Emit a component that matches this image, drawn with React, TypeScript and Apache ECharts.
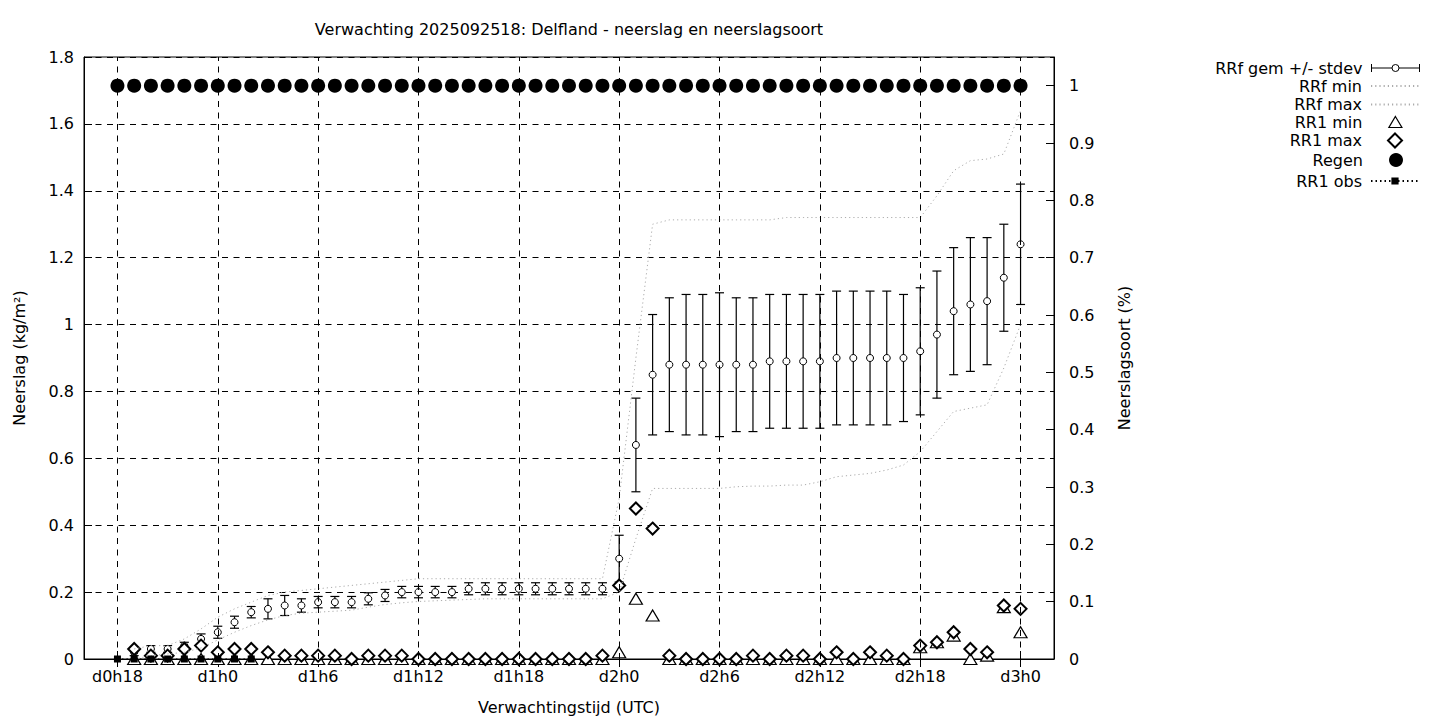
import React, { useEffect, useRef } from 'react';
import * as echarts from 'echarts';

// ---- data (hours since d0h0) ----
const hours = [
  18, 19, 20, 21, 22, 23, 24, 25, 26, 27, 28, 29, 30, 31, 32, 33, 34, 35, 36, 37,
  38, 39, 40, 41, 42, 43, 44, 45, 46, 47, 48, 49, 50, 51, 52, 53, 54, 55, 56, 57,
  58, 59, 60, 61, 62, 63, 64, 65, 66, 67, 68, 69, 70, 71, 72,
];
const xTicks = [18, 24, 30, 36, 42, 48, 54, 60, 66, 72];

const rrfMean = [
  null,
  0.02, 0.03, 0.03, 0.04, 0.06, 0.08, 0.11, 0.14, 0.15, 0.16,
  0.16, 0.17, 0.17, 0.17, 0.18, 0.19, 0.2, 0.2, 0.2, 0.2,
  0.21, 0.21, 0.21, 0.21, 0.21, 0.21, 0.21, 0.21, 0.21, 0.3,
  0.64, 0.85, 0.88, 0.88, 0.88, 0.88, 0.88, 0.88, 0.89, 0.89,
  0.89, 0.89, 0.9, 0.9, 0.9, 0.9, 0.9, 0.92, 0.97, 1.04,
  1.06, 1.07, 1.14, 1.24,
];
const rrfStdev = [
  null,
  0.01, 0.01, 0.01, 0.01, 0.015, 0.018, 0.018, 0.017, 0.03, 0.03,
  0.02, 0.017, 0.017, 0.017, 0.018, 0.018, 0.017, 0.017, 0.017, 0.017,
  0.018, 0.018, 0.018, 0.018, 0.018, 0.018, 0.018, 0.018, 0.018, 0.07,
  0.14, 0.18, 0.2, 0.21, 0.21, 0.215, 0.2, 0.2, 0.2, 0.2,
  0.2, 0.2, 0.2, 0.2, 0.2, 0.2, 0.19, 0.19, 0.19, 0.19,
  0.2, 0.19, 0.16, 0.18,
];
const rrfMin = [
  null,
  0, 0.01, 0.015, 0.02, 0.033, 0.057, 0.08, 0.1, 0.117, 0.13,
  0.137, 0.14, 0.143, 0.146, 0.155, 0.163, 0.168, 0.172, 0.174, 0.176,
  0.178, 0.18, 0.18, 0.18, 0.18, 0.18, 0.18, 0.18, 0.18, 0.2,
  0.36, 0.51, 0.51, 0.51, 0.51, 0.51, 0.515, 0.517, 0.517, 0.52,
  0.52, 0.53, 0.545, 0.55, 0.555, 0.565, 0.58, 0.62, 0.68, 0.74,
  0.75, 0.76, 0.87, 1.0,
];
const rrfMax = [
  null,
  0.03, 0.04, 0.04, 0.06, 0.09, 0.125, 0.15, 0.17, 0.19, 0.2,
  0.205, 0.21, 0.215, 0.22, 0.225, 0.23, 0.235, 0.24, 0.24, 0.24,
  0.24, 0.24, 0.24, 0.24, 0.24, 0.24, 0.24, 0.24, 0.24, 0.48,
  0.9, 1.3, 1.313, 1.313, 1.313, 1.313, 1.313, 1.313, 1.313, 1.32,
  1.32, 1.32, 1.32, 1.32, 1.32, 1.32, 1.32, 1.32, 1.385, 1.46,
  1.49, 1.495, 1.51, 1.64,
];
const rr1Min = [
  null,
  0, 0, 0, 0, 0, 0, 0, 0, 0, 0,
  0, 0, 0, 0, 0, 0, 0, 0, 0, 0,
  0, 0, 0, 0, 0, 0, 0, 0, 0, 0.02,
  0.18, 0.13, 0, 0, 0, 0, 0, 0, 0, 0,
  0, 0, 0, 0, 0, 0, 0, 0.035, 0.05, 0.07,
  0, 0.01, 0.155, 0.08,
];
const rr1Max = [
  null,
  0.03, 0.01, 0.01, 0.03, 0.04, 0.02, 0.03, 0.03, 0.02, 0.01,
  0.01, 0.01, 0.01, 0, 0.01, 0.01, 0.01, 0, 0, 0,
  0, 0, 0, 0, 0, 0, 0, 0, 0.01, 0.22,
  0.45, 0.39, 0.01, 0, 0, 0, 0, 0.01, 0, 0.01,
  0.01, 0, 0.02, 0, 0.02, 0.01, 0, 0.04, 0.05, 0.08,
  0.03, 0.02, 0.16, 0.15,
];
const regen = [
  1, 1, 1, 1, 1, 1, 1, 1, 1, 1, 1, 1, 1, 1, 1, 1, 1, 1, 1, 1,
  1, 1, 1, 1, 1, 1, 1, 1, 1, 1, 1, 1, 1, 1, 1, 1, 1, 1, 1, 1,
  1, 1, 1, 1, 1, 1, 1, 1, 1, 1, 1, 1, 1, 1, 1,
];
const obsHours = [18, 19, 20, 21, 22, 23, 24, 25, 26];
const rr1Obs = [0, 0, 0, 0, 0, 0, 0, 0, 0];

const FONT = 'DejaVu Sans';
const NAMES = {
  gem: 'RRf gem +/- stdev',
  fmin: 'RRf min',
  fmax: 'RRf max',
  min1: 'RR1 min',
  max1: 'RR1 max',
  regen: 'Regen',
  obs: 'RR1 obs',
};

const pairs = (ys: (number | null)[]) =>
  hours.map((h, i) => [h, ys[i]]).filter((p) => p[1] !== null);

const fmtHour = (v: number) => `d${Math.floor(v / 24)}h${v % 24}`;

const errIcon =
  'path://M0,3V11M0,7H20.5M27.5,7H48M48,3V11M20.5,7A3.5,3.5 0 1 1 27.5,7A3.5,3.5 0 1 1 20.5,7Z';

function buildOption() {
  const errData = hours
    .map((h, i) => [h, rrfMean[i], rrfStdev[i]])
    .filter((p) => p[1] !== null);

  const legendRows: any[] = [
    {
      name: NAMES.gem, cy: 66.5, w: 48, h: 14, right: 20, pad: 4,
      item: { icon: errIcon, itemStyle: { color: '#fff', borderColor: '#000', borderWidth: 1 } },
    },
    { name: NAMES.fmin, cy: 84.5, w: 48, h: 14, right: 20, pad: 4, item: { itemStyle: { opacity: 0 } } },
    { name: NAMES.fmax, cy: 103, w: 48, h: 14, right: 20, pad: 4, item: { itemStyle: { opacity: 0 } } },
    {
      name: NAMES.min1, cy: 121.5, w: 13, h: 11, right: 37.5, pad: 21.5, top: 113.5,
      item: { itemStyle: { color: '#fff', borderColor: '#000', borderWidth: 1.2 } },
    },
    {
      name: NAMES.max1, cy: 140, w: 14, h: 14, right: 37, pad: 21, top: 132,
      item: { itemStyle: { color: '#fff', borderColor: '#000', borderWidth: 2 } },
    },
    { name: NAMES.regen, cy: 158.5, w: 14, h: 14, right: 37, pad: 21, item: {} },
    { name: NAMES.obs, cy: 177, w: 48, h: 9, right: 20, pad: 4, item: {} },
  ];

  const legends = legendRows.map((r) => ({
    orient: 'vertical',
    right: r.right,
    top: r.top != null ? r.top : r.cy - r.h / 2,
    align: 'right',
    padding: 0,
    itemWidth: r.w,
    itemHeight: r.h,
    symbolKeepAspect: true,
    selectedMode: false,
    textStyle: {
      fontSize: 16,
      lineHeight: 17,
      color: '#000',
      fontFamily: FONT,
      padding: [0, r.pad, 0, 0],
    },
    data: [{ name: r.name, ...r.item }],
  }));

  const axisText = { fontSize: 16, color: '#000', fontFamily: FONT };
  const dash = [6, 5.5];

  return {
    animation: false,
    backgroundColor: '#fff',
    textStyle: { fontFamily: FONT },
    title: {
      text: 'Verwachting 2025092518: Delfland - neerslag en neerslagsoort',
      left: 569,
      top: 21,
      textAlign: 'center',
      padding: 0,
      textStyle: { fontSize: 16, fontWeight: 'normal', color: '#000', fontFamily: FONT },
    },
    legend: legends,
    grid: {
      left: 84,
      top: 57,
      width: 970,
      height: 602,
      show: true,
      borderColor: '#000',
      borderWidth: 1,
      backgroundColor: 'transparent',
    },
    xAxis: [
      {
        type: 'value',
        min: 16,
        max: 74,
        position: 'bottom',
        name: 'Verwachtingstijd (UTC)',
        nameLocation: 'middle',
        nameGap: 40,
        nameTextStyle: axisText,
        axisLine: { show: true, lineStyle: { color: '#000', width: 1 } },
        axisTick: {
          show: true,
          inside: true,
          length: 8,
          customValues: xTicks,
          lineStyle: { color: '#000', width: 1 },
        },
        axisLabel: {
          customValues: xTicks,
          formatter: fmtHour,
          margin: 9,
          ...axisText,
        },
        splitLine: { show: false },
      },
      {
        type: 'value',
        min: 16,
        max: 74,
        position: 'top',
        axisLine: { show: false },
        axisTick: {
          show: true,
          inside: true,
          length: 8,
          customValues: xTicks,
          lineStyle: { color: '#000', width: 1 },
        },
        axisLabel: { show: false, customValues: xTicks },
        splitLine: { show: false },
      },
    ],
    yAxis: [
      {
        type: 'value',
        min: 0,
        max: 1.8,
        interval: 0.2,
        position: 'left',
        name: 'Neerslag (kg/m²)',
        nameLocation: 'middle',
        nameGap: 57,
        nameTextStyle: axisText,
        axisLine: { show: true, lineStyle: { color: '#000', width: 1 } },
        axisTick: { show: true, inside: true, length: 8, lineStyle: { color: '#000' } },
        axisLabel: { margin: 10, ...axisText },
        splitLine: { show: true, lineStyle: { color: '#000', width: 1, type: dash } },
      },
      {
        type: 'value',
        min: 0,
        max: 1.05,
        interval: 0.1,
        position: 'right',
        name: 'Neerslagsoort (%)',
        nameLocation: 'middle',
        nameGap: 62,
        nameTextStyle: axisText,
        axisLine: { show: true, lineStyle: { color: '#000', width: 1 } },
        axisTick: { show: true, inside: true, length: 8, lineStyle: { color: '#000' } },
        axisLabel: { margin: 15, showMaxLabel: false, ...axisText },
        splitLine: { show: false },
      },
    ],
    series: [
      {
        name: '__grid',
        type: 'line',
        xAxisIndex: 0,
        yAxisIndex: 0,
        data: [],
        silent: true,
        markLine: {
          silent: true,
          symbol: ['none', 'none'],
          label: { show: false },
          lineStyle: { color: '#000', width: 1, type: dash },
          emphasis: { disabled: true },
          data: xTicks.map((v) => ({ xAxis: v })),
        },
      },
      {
        name: NAMES.gem,
        type: 'custom',
        xAxisIndex: 0,
        yAxisIndex: 0,
        data: errData,
        encode: { x: 0, y: 1 },
        itemStyle: { color: '#fff', borderColor: '#000' },
        renderItem: (params: any, api: any) => {
          const x = api.value(0);
          const m = api.value(1);
          const s = api.value(2);
          const top = api.coord([x, m + s]);
          const bot = api.coord([x, m - s]);
          const c = api.coord([x, m]);
          const hw = 4.5;
          const ls = { stroke: '#000', lineWidth: 1.2 };
          return {
            type: 'group',
            children: [
              { type: 'line', shape: { x1: top[0], y1: top[1], x2: bot[0], y2: bot[1] }, style: ls },
              { type: 'line', shape: { x1: top[0] - hw, y1: top[1], x2: top[0] + hw, y2: top[1] }, style: ls },
              { type: 'line', shape: { x1: bot[0] - hw, y1: bot[1], x2: bot[0] + hw, y2: bot[1] }, style: ls },
              { type: 'circle', shape: { cx: c[0], cy: c[1], r: 3.5 }, style: { fill: '#fff', stroke: '#000', lineWidth: 1 } },
            ],
          };
        },
      },
      {
        name: NAMES.fmin,
        type: 'line',
        data: pairs(rrfMin),
        symbol: 'none',
        lineStyle: { color: '#acacac', width: 1, type: [1.2, 3] },
        itemStyle: { color: '#acacac' },
      },
      {
        name: NAMES.fmax,
        type: 'line',
        data: pairs(rrfMax),
        symbol: 'none',
        lineStyle: { color: '#acacac', width: 1, type: [1.2, 3] },
        itemStyle: { color: '#acacac' },
      },
      {
        name: NAMES.min1,
        type: 'scatter',
        data: pairs(rr1Min),
        symbol: 'triangle',
        symbolSize: [13, 11],
        itemStyle: { color: '#fff', borderColor: '#000', borderWidth: 1.2, opacity: 1 },
      },
      {
        name: NAMES.max1,
        type: 'scatter',
        data: pairs(rr1Max),
        symbol: 'diamond',
        symbolSize: 12,
        itemStyle: { color: '#fff', borderColor: '#000', borderWidth: 2, opacity: 1 },
      },
      {
        name: NAMES.regen,
        type: 'scatter',
        yAxisIndex: 1,
        data: hours.map((h, i) => [h, regen[i]]),
        symbol: 'circle',
        symbolSize: 14,
        itemStyle: { color: '#000', opacity: 1 },
      },
      {
        name: NAMES.obs,
        type: 'line',
        data: obsHours.map((h, i) => [h, rr1Obs[i]]),
        symbol: 'rect',
        symbolSize: 7,
        showAllSymbol: true,
        lineStyle: { color: '#000', width: 1, type: [1.5, 3] },
        itemStyle: { color: '#000', opacity: 1 },
      },
    ],
  };
}

export default function App() {
  const ref = useRef<HTMLDivElement>(null);
  useEffect(() => {
    if (!ref.current) return;
    const chart = echarts.init(ref.current, null, { renderer: 'svg' });
    chart.setOption(buildOption() as any);
    return () => chart.dispose();
  }, []);
  return (
    <div
      ref={ref}
      style={{ position: 'fixed', left: 0, top: 0, width: 1440, height: 720, background: '#fff' }}
    />
  );
}
